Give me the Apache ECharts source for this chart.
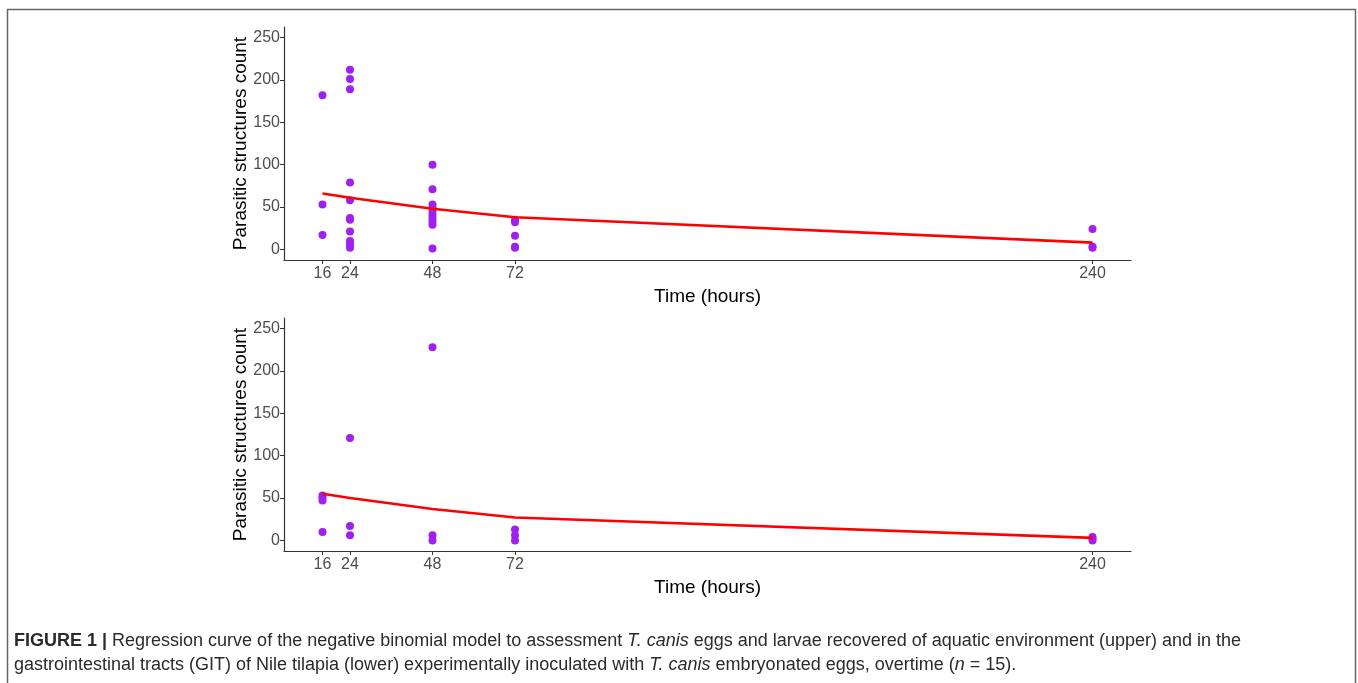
<!DOCTYPE html>
<html>
<head>
<meta charset="utf-8">
<script src="https://cdn.jsdelivr.net/npm/echarts@6/dist/echarts.min.js"></script>
<style>
  html, body { margin: 0; padding: 0; background: #fff; }
  #chart { width: 1358px; height: 683px; }
</style>
</head>
<body>
<div id="chart"></div>
<script>
// sampling times (hours) and tick labels
const hours = [16, 24, 48, 72, 240];
const countTicks = [0, 50, 100, 150, 200, 250];

// upper panel: aquatic environment
const upperObs = [
  [16, 182], [16, 53], [16, 17],
  [24, 212], [24, 201], [24, 189], [24, 79], [24, 58], [24, 37], [24, 35], [24, 21], [24, 10], [24, 6], [24, 2],
  [48, 100], [48, 71], [48, 53], [48, 49], [48, 45], [48, 41], [48, 37], [48, 33], [48, 29], [48, 1],
  [72, 35], [72, 32], [72, 16], [72, 3], [72, 2],
  [240, 24], [240, 3], [240, 2]
];
const upperFit = [66, 61, 48, 38, 8];

// lower panel: GIT of Nile tilapia
const lowerObs = [
  [16, 53], [16, 50], [16, 47], [16, 10],
  [24, 121], [24, 17], [24, 6],
  [48, 228], [48, 6], [48, 0],
  [72, 13], [72, 6], [72, 0],
  [240, 4], [240, 2], [240, 0]
];
const lowerFit = [55, 50, 37, 27, 3];

const chart = echarts.init(document.getElementById('chart'));

const axisColor = '#333';
const labelStyle = { color: '#4d4d4d', fontSize: 16, fontFamily: 'Arial, Liberation Sans, sans-serif' };
const nameStyle = { color: '#000', fontSize: 19, fontFamily: 'Arial, Liberation Sans, sans-serif' };

function xAxisFor(gridIndex) {
  return {
    type: 'value', gridIndex: gridIndex, min: 4.8, max: 251.2,
    name: 'Time (hours)', nameLocation: 'middle', nameGap: 27, nameTextStyle: nameStyle,
    axisLine: { onZero: false, lineStyle: { color: axisColor, width: 1.2 } },
    axisTick: { show: true, length: 4, customValues: hours, lineStyle: { color: axisColor } },
    axisLabel: Object.assign({ customValues: hours, margin: 6 }, labelStyle),
    splitLine: { show: false }
  };
}
function yAxisFor(gridIndex) {
  return {
    type: 'value', gridIndex: gridIndex, min: -12.5, max: 262.5,
    name: 'Parasitic structures count', nameLocation: 'middle', nameGap: 34,
    nameMoveOverlap: false, nameTextStyle: nameStyle,
    axisLine: { show: true, onZero: false, lineStyle: { color: axisColor, width: 1.2 } },
    axisTick: { show: true, length: 4, customValues: countTicks, lineStyle: { color: axisColor } },
    axisLabel: Object.assign({ customValues: countTicks, margin: 4 }, labelStyle),
    splitLine: { show: false }
  };
}

const pts = (xi) => ({ type: 'scatter', xAxisIndex: xi, yAxisIndex: xi, symbolSize: 8, itemStyle: { color: '#A020F0', opacity: 1 }, z: 3 });
const fit = (xi, vals) => ({
  type: 'line', xAxisIndex: xi, yAxisIndex: xi, showSymbol: false, smooth: false,
  lineStyle: { color: '#FF0000', width: 2.6 }, z: 4,
  data: hours.map((h, i) => [h, vals[i]])
});

const captionFont = 'Arial, "Liberation Sans", sans-serif';

chart.setOption({
  animation: false,
  backgroundColor: '#fff',
  grid: [
    { left: 284, right: 227, top: 27, height: 233 },
    { left: 284, right: 227, top: 318, height: 233 }
  ],
  xAxis: [xAxisFor(0), xAxisFor(1)],
  yAxis: [yAxisFor(0), yAxisFor(1)],
  series: [
    Object.assign(pts(0), { data: upperObs }),
    fit(0, upperFit),
    Object.assign(pts(1), { data: lowerObs }),
    fit(1, lowerFit)
  ],
  graphic: [
    {
      type: 'rect', silent: true,
      shape: { x: 7.5, y: 9.5, width: 1348, height: 690 },
      style: { fill: 'none', stroke: '#666', lineWidth: 1.5 }
    },
    {
      type: 'text', left: 14, top: 629,
      style: {
        text: '{b|FIGURE 1 |} {n|Regression curve of the negative binomial model to assessment }{i|T. canis}{n| eggs and larvae recovered of aquatic environment (upper) and in the}\n' +
              '{n|gastrointestinal tracts (GIT) of Nile tilapia (lower) experimentally inoculated with }{i|T. canis}{n| embryonated eggs, overtime (}{i|n}{n| = 15).}',
        fill: '#2b2b2b',
        font: '18px ' + captionFont,
        lineHeight: 24,
        rich: {
          b: { fontWeight: 'bold', fontSize: 18, fontFamily: captionFont, fill: '#2b2b2b', lineHeight: 24 },
          n: { fontSize: 18, fontFamily: captionFont, fill: '#2b2b2b', lineHeight: 24 },
          i: { fontStyle: 'italic', fontSize: 18, fontFamily: captionFont, fill: '#2b2b2b', lineHeight: 24 }
        }
      }
    }
  ]
});
</script>
</body>
</html>
